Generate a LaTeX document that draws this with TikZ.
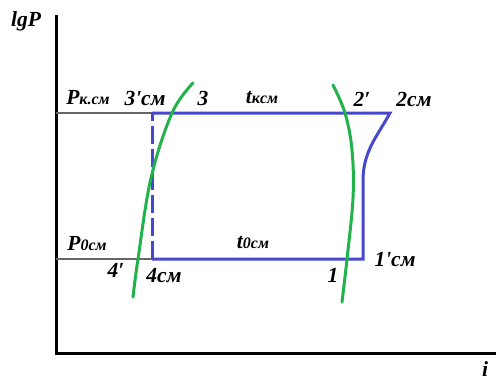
\documentclass[tikz,border=0pt]{standalone}
\usepackage{fontspec}
\setmainfont{Liberation Serif}[Ligatures=TeXOff]
\usetikzlibrary{positioning}
\tikzset{
	axisLine/.style={black, line width=3pt},
	guideLine/.style={black!60, line width=1.4pt},
	cycleLine/.style={CycleBlue, line width=3pt, line join=miter},
	satLine/.style={SatGreen, line width=3pt, line cap=round},
	lbl/.style={font=\fontsize{21.5}{24}\selectfont\bfseries\itshape, inner sep=0pt},
}
\newcommand{\sml}[1]{{\fontsize{16}{18}\selectfont #1}}
\begin{document}
\begin{tikzpicture}[x=1pt, y=-1pt]
		
		% Colors
		\definecolor{CycleBlue}{RGB}{72,72,204}
		\definecolor{SatGreen}{RGB}{34,178,76}
		
		\useasboundingbox (0,0) rectangle (496,381);
		
		% --- axes ---
		\coordinate (o) at (56,353);
		\coordinate (ytop) at (56,15);
		\coordinate (xend) at (496,353);
		\draw[axisLine] (ytop) -- (o) -- (xend);
		
		% --- cycle points ---
		\coordinate (pk) at (56,113);
		\coordinate (p0) at (56,259);
		\coordinate (s3) at (152,113);
		\coordinate (s2) at (390,113);
		\coordinate (s2b) at (363,178);
		\coordinate (s1) at (363,259);
		\coordinate (s4) at (152,259);
		
		% pressure guide lines
		\draw[guideLine] (pk) -- (s3);
		\draw[guideLine] (p0) -- (s4);
		
		% cycle
		\draw[cycleLine] (s3) -- (s2)
		.. controls (378,135) and (364,150) .. (s2b) -- (s1) -- (s4);
		\draw[cycleLine, dash pattern=on 18pt off 5pt] (s4) -- (s3);
		
		% saturation lines
		\draw[satLine] plot[smooth, tension=0.6] coordinates
		{(193,83) (172,113) (151,178) (138,259) (133,297)};
		\draw[satLine] plot[smooth, tension=0.6] coordinates
		{(333,85) (345,113) (352,150) (353,198) (347,259) (342,302)};
		
		% --- labels ---
		\node[lbl] (lgp) at (26,21) {lgP};
		\node[lbl] (iax) at (485,369) {i};
		
		\node[lbl] (lpk) at (88,98) {P\sml{к.см}};
		\node[lbl] (l3s) at (145,98) {3'см};
		\node[lbl] (l3) at (203,98) {3};
		\node[lbl] (ltk) at (262,98) {t\sml{кcм}};
		\node[lbl] (l2) at (362,99) {2′};
		\node[lbl] (l2s) at (414,99) {2см};
		
		\node[lbl] (lp0) at (87,244) {P\sml{0см}};
		\node[lbl] (lt0) at (253,243) {t\sml{0см}};
		\node[lbl] (l4) at (116,270) {4′};
		\node[lbl] (l4s) at (164,276) {4см};
		\node[lbl] (l1) at (333,275) {1};
		\node[lbl] (l1s) at (395,260) {1'см};
		
	\end{tikzpicture}
\end{document}
